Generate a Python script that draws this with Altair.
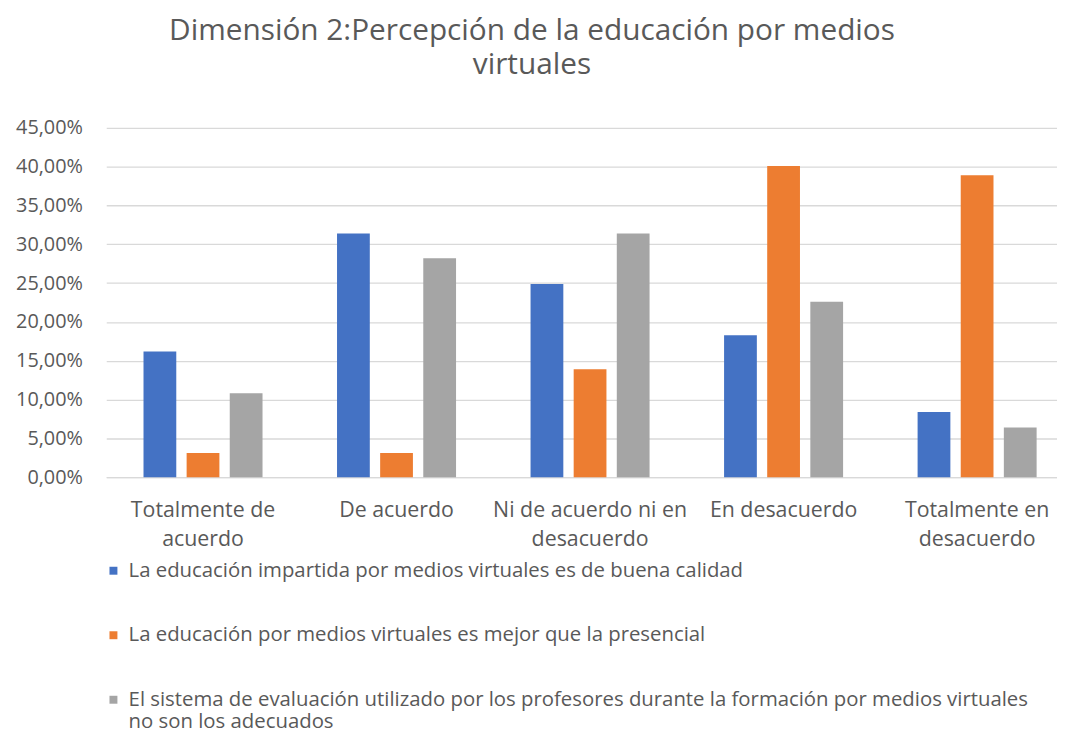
import altair as alt
import pandas as pd

categories = [
    "Totalmente de acuerdo",
    "De acuerdo",
    "Ni de acuerdo ni en desacuerdo",
    "En desacuerdo",
    "Totalmente en desacuerdo",
]
category_lines = {
    "Totalmente de acuerdo": ["Totalmente de", "acuerdo"],
    "Ni de acuerdo ni en desacuerdo": ["Ni de acuerdo ni en", "desacuerdo"],
    "Totalmente en desacuerdo": ["Totalmente en", "desacuerdo"],
}
series = [
    "La educación impartida por medios virtuales es de buena calidad",
    "La educación por medios virtuales es mejor que la presencial",
    "El sistema de evaluación utilizado por los profesores durante la formación por medios virtuales no son los adecuados",
]
series_lines = {
    series[2]: [
        "El sistema de evaluación utilizado por los profesores durante la formación por medios virtuales",
        "no son los adecuados",
    ]
}
buena_calidad = [0.162, 0.314, 0.249, 0.183, 0.084]
mejor_presencial = [0.031, 0.031, 0.139, 0.401, 0.389]
evaluacion = [0.108, 0.282, 0.314, 0.226, 0.064]
colors = ["#4472C4", "#ED7D31", "#A5A5A5"]
y_ticks = [0.0, 0.05, 0.10, 0.15, 0.20, 0.25, 0.30, 0.35, 0.40, 0.45]
title_line1 = "Dimensión 2:Percepción de la educación por medios"
title_line2 = "virtuales"

rows = []
for s, vals in zip(series, [buena_calidad, mejor_presencial, evaluacion]):
    for c, v in zip(categories, vals):
        rows.append({"categoria": c, "serie": s, "valor": v})
df = pd.DataFrame(rows)


def lines_expr(mapping):
    expr = "datum.label"
    for k, v in mapping.items():
        arr = "[" + ", ".join("'" + x + "'" for x in v) + "]"
        expr = f"datum.label == '{k}' ? {arr} : ({expr})"
    return expr


FONT = "Open Sans"
TXT = "#595959"

chart = (
    alt.Chart(df)
    .mark_bar()
    .encode(
        x=alt.X(
            "categoria:N",
            sort=categories,
            title=None,
            scale=alt.Scale(range=[0, 975], paddingInner=0.385, paddingOuter=0.1925),
            axis=alt.Axis(
                labelAngle=0,
                labelExpr=lines_expr(category_lines),
                labelFont=FONT,
                labelFontSize=21.5,
                labelColor=TXT,
                labelPadding=23,
                labelLineHeight=29,
                labelLimit=300,
                ticks=False,
                domain=True,
                domainColor="#D9D9D9",
                domainWidth=1.3,
            ),
        ),
        xOffset=alt.XOffset(
            "serie:N", sort=series, scale=alt.Scale(paddingInner=0.24, paddingOuter=0)
        ),
        y=alt.Y(
            "valor:Q",
            title=None,
            scale=alt.Scale(domain=[0, 0.45], nice=False),
            axis=alt.Axis(
                values=y_ticks,
                labelExpr="replace(format(datum.value, '.2%'), '.', ',')",
                labelFont=FONT,
                labelFontSize=20,
                labelColor=TXT,
                labelPadding=24,
                ticks=False,
                domain=False,
                grid=True,
                gridColor="#D9D9D9",
                gridWidth=1.3,
            ),
        ),
        color=alt.Color(
            "serie:N",
            sort=series,
            scale=alt.Scale(domain=series, range=colors),
            legend=alt.Legend(
                title=None,
                orient="none",
                legendX=-3,
                legendY=436,
                direction="vertical",
                symbolType="square",
                symbolSize=64,
                symbolStrokeWidth=0,
                labelFont=FONT,
                labelFontSize=20.5,
                labelColor=TXT,
                labelLimit=1000,
                labelOffset=5,
                rowPadding=44,
                labelExpr=lines_expr(series_lines),
            ),
        ),
    )
    .properties(
        width=958,
        height=352,
        autosize=alt.AutoSizeParams(type="none"),
        padding={"left": 99, "top": 118, "right": 0, "bottom": 256},
        title=alt.TitleParams(
            text=title_line1,
            subtitle=title_line2,
            font=FONT,
            fontSize=30,
            fontWeight="normal",
            color=TXT,
            subtitleFont=FONT,
            subtitleFontSize=30,
            subtitleColor=TXT,
            subtitleFontWeight="normal",
            subtitlePadding=5,
            lineHeight=30,
            subtitleLineHeight=30,
            anchor="middle",
            frame="group",
            dx=-50,
            offset=38,
        ),
    )
    .configure_view(stroke=None)
)

chart.save("out.html", embed_options={"renderer": "svg", "actions": False})
